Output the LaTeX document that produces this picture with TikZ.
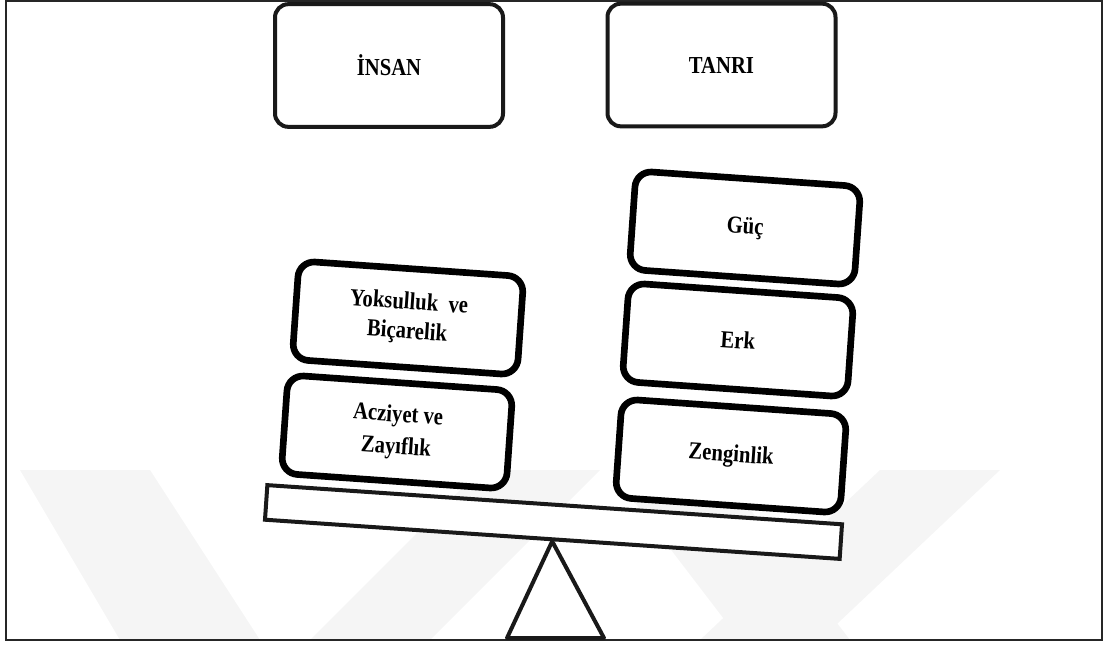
\documentclass[tikz,border=0pt]{standalone}
\usepackage{graphicx}
\usepackage{fontspec}
\setmainfont{Liberation Serif}
\usetikzlibrary{calc}
% slightly tall lettering used in the boxes
\newcommand{\tallword}[1]{\scalebox{1}[1.18]{#1}}
\begin{document}
\begin{tikzpicture}[x=0.75pt,y=-0.75pt,
  label font/.style={font=\fontsize{15.5}{18}\selectfont\bfseries},
  topbox/.style={draw=black!90, line width=3pt, rounded corners=10pt,
    minimum width=171pt, minimum height=92pt, fill=white, align=center, label font},
  weight/.style={draw=black, line width=5pt, rounded corners=12pt,
    minimum width=169pt, minimum height=74pt, fill=white, rotate=-4,
    align=center, label font},
  beamshape/.style={draw=black!90, line width=3pt, fill=white, inner sep=0pt,
    minimum width=432pt, minimum height=26pt, rotate=-3.9},
  mark band/.style={fill=black!4, draw=none},
]
\useasboundingbox (0,0) rectangle (1107,646);

% faint background chevrons
\fill[mark band] (20,470) -- (150,470) -- (260,640) -- (120,640) -- cycle;
\fill[mark band] (310,640) -- (430,640) -- (600,470) -- (480,470) -- cycle;
\fill[mark band] (610,470) -- (720,470) -- (850,640) -- (740,640) -- cycle;
\fill[mark band] (700,640) -- (820,640) -- (1000,470) -- (880,470) -- cycle;

% outer frame
\draw[line width=1.5pt, black!85] (6,1) rectangle (1102,640);

% top labels
\node[topbox] (insan) at (389,65.5) {\tallword{İNSAN}};
\node[topbox] (tanri) at (721.5,65) {\tallword{TANRI}};

% the balance beam and its pivot
\node[beamshape] (beam) at (553.5,522) {};
\coordinate (baseL) at (507,638);
\coordinate (baseR) at (604,638);
\draw[line width=3pt, black!90, line join=round, fill=white]
  (beam.south) -- (baseR) -- (baseL) -- cycle;

% left pan
\node[weight] (aciz) at (397,432) {\tallword{Acziyet ve}\\[6pt]\tallword{Zayıflık}};
\node[weight] (yoks) at (408,318) {\tallword{Yoksulluk\ \ ve}\\[4pt]\tallword{Biçarelik}};

% right pan
\node[weight] (zengin) at (731,456) {\tallword{Zenginlik}};
\node[weight] (erk) at (738,340) {\tallword{Erk}};
\node[weight] (guc) at (745,228) {\tallword{Güç}};
\end{tikzpicture}
\end{document}
